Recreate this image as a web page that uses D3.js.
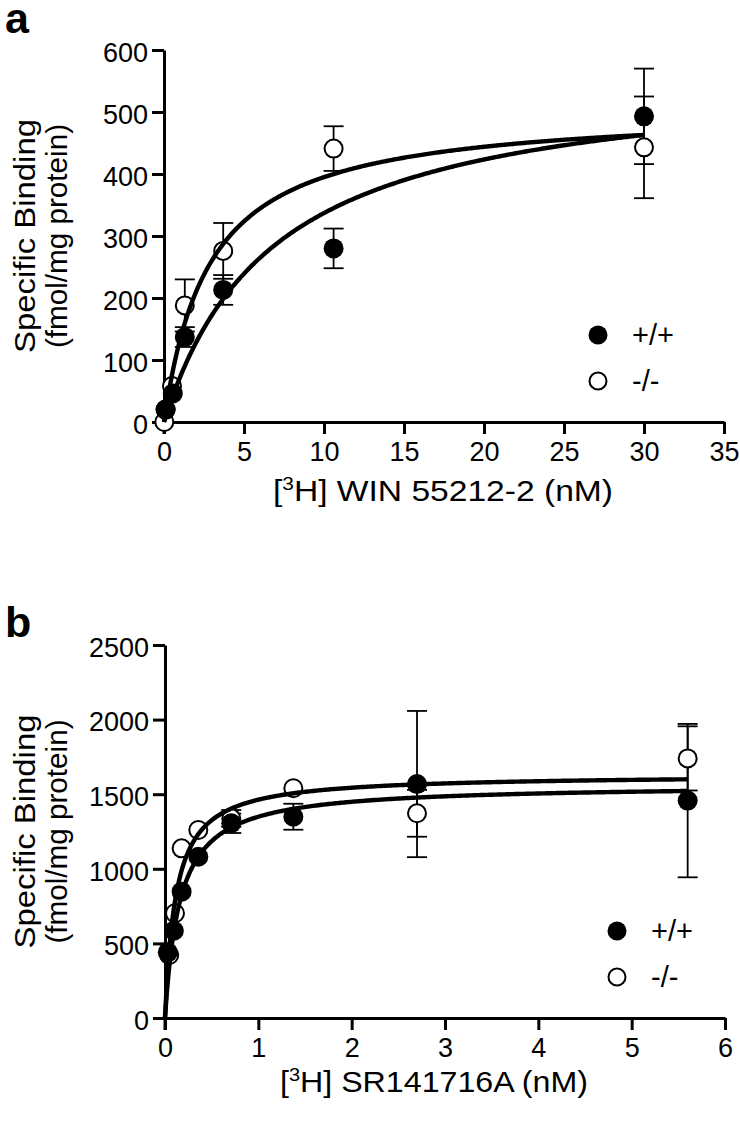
<!DOCTYPE html>
<html>
<head>
<meta charset="utf-8">
<script src="https://cdn.jsdelivr.net/npm/d3@7"></script>
<style>
  html, body { margin: 0; padding: 0; background: #fff; }
  svg { display: block; font-family: "Liberation Sans", Arial, sans-serif; }
</style>
</head>
<body>
<svg id="chart" width="740" height="1122"></svg>
<script>
// ---------- Panel a data: [3H] WIN 55212-2 ----------
const aXTicks = [0, 5, 10, 15, 20, 25, 30, 35];
const aYTicks = [0, 100, 200, 300, 400, 500, 600];
const aWtX   = [0.1, 0.55, 1.3, 3.7, 10.6, 30];
const aWtY   = [20, 46, 137, 213, 280, 493];
const aWtErr = [0, 0, 16, 24, 32, 77];
const aKoX   = [0.02, 0.1, 0.5, 1.3, 3.7, 10.6, 30];
const aKoY   = [0, 20, 58, 188, 276, 441, 443];
const aKoErr = [0, 0, 0, 42, 45, 36, 82];
// one-site fit parameters [Bmax, Kd]
const aWtFit = [569.5, 6.9];
const aKoFit = [506.7, 2.83];

// ---------- Panel b data: [3H] SR141716A ----------
const bXTicks = [0, 1, 2, 3, 4, 5, 6];
const bYTicks = [0, 500, 1000, 1500, 2000, 2500];
const bWtX   = [0.03, 0.095, 0.178, 0.357, 0.71, 1.375, 2.7, 5.6];
const bWtY   = [440, 585, 847, 1081, 1305, 1349, 1568, 1457];
const bWtErr = [0, 0, 0, 0, 65, 87, 490, 514];
const bKoX   = [0.045, 0.107, 0.178, 0.357, 0.71, 1.375, 2.7, 5.6];
const bKoY   = [422, 702, 1137, 1260, 1338, 1540, 1372, 1740];
const bKoErr = [0, 0, 0, 0, 56, 0, 157, 215];
const bWtFit = [1565, 0.16];
const bKoFit = [1633, 0.116];

const legendLabels = ["+/+", "-/-"];

const svg = d3.select("#chart");

function panel(cfg) {
  const g = svg.append("g");
  const x = d3.scaleLinear().domain(cfg.xDomain).range(cfg.xRange);
  const y = d3.scaleLinear().domain(cfg.yDomain).range(cfg.yRange);

  // axes
  const xAxis = g.append("g")
    .attr("transform", `translate(0,${cfg.yRange[0]})`)
    .call(d3.axisBottom(x).tickValues(cfg.xTicks).tickSize(12).tickSizeOuter(0).tickPadding(8).tickFormat(d3.format("d")));
  const yAxis = g.append("g")
    .attr("transform", `translate(${cfg.xRange[0]},0)`)
    .call(d3.axisLeft(y).tickValues(cfg.yTicks).tickSize(12).tickSizeOuter(0).tickPadding(4).tickFormat(d3.format("d")));
  [xAxis, yAxis].forEach(ax => {
    ax.select(".domain").attr("stroke", "#000").attr("stroke-width", 3);
    ax.selectAll(".tick line").attr("stroke", "#000").attr("stroke-width", 3);
    ax.selectAll(".tick text").attr("fill", "#000").attr("font-size", 27)
      .attr("font-family", "'Liberation Sans', Arial, sans-serif");
  });
  // extend y-axis line down to cover x-axis stroke
  g.append("line")
    .attr("x1", cfg.xRange[0]).attr("x2", cfg.xRange[0])
    .attr("y1", cfg.yRange[0]).attr("y2", cfg.yRange[0] + 12)
    .attr("stroke", "#000").attr("stroke-width", 3);
  yAxis.selectAll(".tick text").attr("dy", "0.42em");

  // error bars
  function errBars(xs, ys, es) {
    xs.forEach((xv, i) => {
      if (!es[i]) return;
      const cx = x(xv), y1 = y(ys[i] - es[i]), y2 = y(ys[i] + es[i]);
      g.append("line").attr("x1", cx).attr("x2", cx).attr("y1", y1).attr("y2", y2)
        .attr("stroke", "#000").attr("stroke-width", 1.8);
      [y1, y2].forEach(yy => g.append("line")
        .attr("x1", cx - 10).attr("x2", cx + 10).attr("y1", yy).attr("y2", yy)
        .attr("stroke", "#000").attr("stroke-width", 1.8));
    });
  }
  errBars(cfg.koX, cfg.koY, cfg.koErr);
  errBars(cfg.wtX, cfg.wtY, cfg.wtErr);

  // points
  g.selectAll(null).data(cfg.koX.map((d, i) => [d, cfg.koY[i]])).enter().append("circle")
    .attr("cx", d => x(d[0])).attr("cy", d => y(d[1])).attr("r", 9)
    .attr("fill", "#fff").attr("stroke", "#000").attr("stroke-width", 2);
  g.selectAll(null).data(cfg.wtX.map((d, i) => [d, cfg.wtY[i]])).enter().append("circle")
    .attr("cx", d => x(d[0])).attr("cy", d => y(d[1])).attr("r", 10)
    .attr("fill", "#000");

  // fitted one-site binding curves
  const line = d3.line().x(d => x(d[0])).y(d => y(d[1]));
  [cfg.wtFit, cfg.koFit].forEach(p => {
    const xs = d3.range(0, 301).map(k => cfg.xMaxFit * k / 300);
    g.append("path").datum(xs.map(v => [v, p[0] * v / (p[1] + v)]))
      .attr("d", line).attr("fill", "none").attr("stroke", "#000").attr("stroke-width", 4.4);
  });

  // y label (two lines, rotated)
  const cy = (cfg.yRange[0] + cfg.yRange[1]) / 2;
  g.append("text").attr("transform", `translate(35,${cy}) rotate(-90)`)
    .attr("text-anchor", "middle").attr("font-size", 29).attr("textLength", 234)
    .attr("lengthAdjust", "spacingAndGlyphs").text("Specific  Binding");
  g.append("text").attr("transform", `translate(67,${cy}) rotate(-90)`)
    .attr("text-anchor", "middle").attr("font-size", 29).attr("textLength", 224)
    .attr("lengthAdjust", "spacingAndGlyphs").text("(fmol/mg protein)");

  // x label
  const xl = g.append("text").attr("x", cfg.xLabelX).attr("y", cfg.xLabelY)
    .attr("text-anchor", "middle").attr("font-size", 29)
    .attr("textLength", cfg.xLabelLen).attr("lengthAdjust", "spacingAndGlyphs");
  xl.append("tspan").text("[");
  xl.append("tspan").attr("font-size", 18).attr("dy", -11).text("3");
  xl.append("tspan").attr("dy", 11).text("H] " + cfg.xLabel);

  // panel letter
  svg.append("text").attr("x", 5).attr("y", cfg.letterY).attr("font-size", 43)
    .attr("font-weight", "bold").text(cfg.letter);

  // legend
  const lg = g.append("g");
  lg.append("circle").attr("cx", cfg.legX).attr("cy", cfg.legY).attr("r", 9.5).attr("fill", "#000");
  lg.append("circle").attr("cx", cfg.legX).attr("cy", cfg.legY + 46).attr("r", 8.5)
    .attr("fill", "#fff").attr("stroke", "#000").attr("stroke-width", 2);
  lg.append("text").attr("x", cfg.legX + 34).attr("y", cfg.legY + 10).attr("font-size", 29).text(legendLabels[0]);
  lg.append("text").attr("x", cfg.legX + 34).attr("y", cfg.legY + 56).attr("font-size", 29).text(legendLabels[1]);
}

panel({
  xDomain: [0, 35], xRange: [164, 724], yDomain: [0, 600], yRange: [422, 50],
  xTicks: aXTicks, yTicks: aYTicks,
  wtX: aWtX, wtY: aWtY, wtErr: aWtErr, koX: aKoX, koY: aKoY, koErr: aKoErr,
  wtFit: aWtFit, koFit: aKoFit, xMaxFit: 30,
  xLabel: "WIN 55212-2 (nM)", xLabelX: 443, xLabelY: 501, xLabelLen: 340,
  letter: "a", letterY: 33, legX: 598, legY: 335
});
panel({
  xDomain: [0, 6], xRange: [165, 725], yDomain: [0, 2500], yRange: [1018, 645],
  xTicks: bXTicks, yTicks: bYTicks,
  wtX: bWtX, wtY: bWtY, wtErr: bWtErr, koX: bKoX, koY: bKoY, koErr: bKoErr,
  wtFit: bWtFit, koFit: bKoFit, xMaxFit: 5.6,
  xLabel: "SR141716A (nM)", xLabelX: 434, xLabelY: 1092, xLabelLen: 308,
  letter: "b", letterY: 637, legX: 617, legY: 931
});
</script>
</body>
</html>
